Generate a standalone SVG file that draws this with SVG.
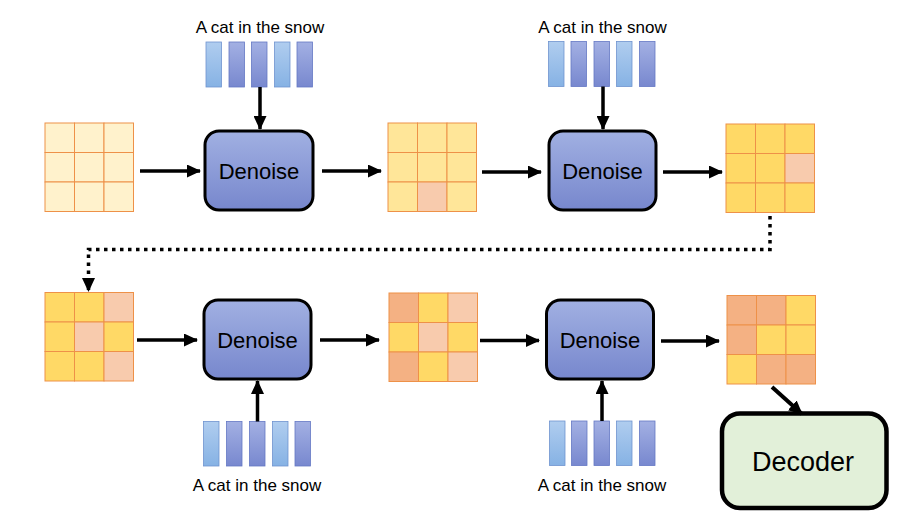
<svg xmlns="http://www.w3.org/2000/svg" width="900" height="526" viewBox="0 0 900 526">
<defs>
<linearGradient id="gDen" x1="0" y1="0" x2="0" y2="1">
<stop offset="0" stop-color="#a1b0e2"/>
<stop offset="1" stop-color="#7787cd"/>
</linearGradient>
<linearGradient id="gLight" x1="0" y1="0" x2="0" y2="1">
<stop offset="0" stop-color="#b0cdef"/>
<stop offset="1" stop-color="#86b2e4"/>
</linearGradient>
<linearGradient id="gDark" x1="0" y1="0" x2="0" y2="1">
<stop offset="0" stop-color="#a3b0e3"/>
<stop offset="1" stop-color="#7888cf"/>
</linearGradient>
<marker id="ah" viewBox="0 0 14 13" refX="13" refY="6.5" markerWidth="14" markerHeight="13" markerUnits="userSpaceOnUse" orient="auto">
<path d="M0,0 L14,6.5 L0,13 Z" fill="#000"/>
</marker>
</defs>
<style>
.cell{stroke:#ee9148;stroke-width:1}
.C{fill:#fff2cc}
.Y{fill:#ffe699}
.G{fill:#ffd966}
.P{fill:#f8cbad}
.S{fill:#f4b183}
.den{fill:url(#gDen);stroke:#000;stroke-width:3}
.lb{fill:url(#gLight);stroke:#6f93cf;stroke-width:0.8}
.db{fill:url(#gDark);stroke:#6478c4;stroke-width:0.8}
.lbl{font-family:"Liberation Sans",Arial,sans-serif;font-size:17px;fill:#000;text-anchor:middle}
.dtx{font-family:"Liberation Sans",Arial,sans-serif;font-size:22px;fill:#000;text-anchor:middle}
.arr{stroke:#000;stroke-width:3.5;fill:none;marker-end:url(#ah)}
.dot{stroke:#000;stroke-width:3.5;fill:none;stroke-dasharray:3.5 4.5;marker-end:url(#ah)}
</style>
<rect width="900" height="526" fill="#fff"/>

<g id="grid1">
<rect class="cell C" x="45" y="123" width="29.5" height="29.5"/><rect class="cell C" x="74.5" y="123" width="29.5" height="29.5"/><rect class="cell C" x="104" y="123" width="29.5" height="29.5"/>
<rect class="cell C" x="45" y="152.5" width="29.5" height="29.5"/><rect class="cell C" x="74.5" y="152.5" width="29.5" height="29.5"/><rect class="cell C" x="104" y="152.5" width="29.5" height="29.5"/>
<rect class="cell C" x="45" y="182" width="29.5" height="29.5"/><rect class="cell C" x="74.5" y="182" width="29.5" height="29.5"/><rect class="cell C" x="104" y="182" width="29.5" height="29.5"/>
</g>

<g id="grid2">
<rect class="cell Y" x="388" y="123" width="29.5" height="29.5"/><rect class="cell Y" x="417.5" y="123" width="29.5" height="29.5"/><rect class="cell Y" x="447" y="123" width="29.5" height="29.5"/>
<rect class="cell Y" x="388" y="152.5" width="29.5" height="29.5"/><rect class="cell Y" x="417.5" y="152.5" width="29.5" height="29.5"/><rect class="cell Y" x="447" y="152.5" width="29.5" height="29.5"/>
<rect class="cell Y" x="388" y="182" width="29.5" height="29.5"/><rect class="cell P" x="417.5" y="182" width="29.5" height="29.5"/><rect class="cell Y" x="447" y="182" width="29.5" height="29.5"/>
</g>

<g id="grid3">
<rect class="cell G" x="726" y="124" width="29.5" height="29.5"/><rect class="cell G" x="755.5" y="124" width="29.5" height="29.5"/><rect class="cell G" x="785" y="124" width="29.5" height="29.5"/>
<rect class="cell G" x="726" y="153.5" width="29.5" height="29.5"/><rect class="cell G" x="755.5" y="153.5" width="29.5" height="29.5"/><rect class="cell P" x="785" y="153.5" width="29.5" height="29.5"/>
<rect class="cell G" x="726" y="183" width="29.5" height="29.5"/><rect class="cell G" x="755.5" y="183" width="29.5" height="29.5"/><rect class="cell G" x="785" y="183" width="29.5" height="29.5"/>
</g>

<g id="grid4">
<rect class="cell G" x="45" y="292.5" width="29.5" height="29.5"/><rect class="cell G" x="74.5" y="292.5" width="29.5" height="29.5"/><rect class="cell P" x="104" y="292.5" width="29.5" height="29.5"/>
<rect class="cell G" x="45" y="322" width="29.5" height="29.5"/><rect class="cell P" x="74.5" y="322" width="29.5" height="29.5"/><rect class="cell G" x="104" y="322" width="29.5" height="29.5"/>
<rect class="cell G" x="45" y="351.5" width="29.5" height="29.5"/><rect class="cell G" x="74.5" y="351.5" width="29.5" height="29.5"/><rect class="cell P" x="104" y="351.5" width="29.5" height="29.5"/>
</g>

<g id="grid5">
<rect class="cell S" x="389" y="293" width="29.5" height="29.5"/><rect class="cell G" x="418.5" y="293" width="29.5" height="29.5"/><rect class="cell P" x="448" y="293" width="29.5" height="29.5"/>
<rect class="cell G" x="389" y="322.5" width="29.5" height="29.5"/><rect class="cell P" x="418.5" y="322.5" width="29.5" height="29.5"/><rect class="cell G" x="448" y="322.5" width="29.5" height="29.5"/>
<rect class="cell S" x="389" y="352" width="29.5" height="29.5"/><rect class="cell G" x="418.5" y="352" width="29.5" height="29.5"/><rect class="cell P" x="448" y="352" width="29.5" height="29.5"/>
</g>

<g id="grid6">
<rect class="cell S" x="727" y="295.5" width="29.5" height="29.5"/><rect class="cell S" x="756.5" y="295.5" width="29.5" height="29.5"/><rect class="cell G" x="786" y="295.5" width="29.5" height="29.5"/>
<rect class="cell S" x="727" y="325" width="29.5" height="29.5"/><rect class="cell G" x="756.5" y="325" width="29.5" height="29.5"/><rect class="cell G" x="786" y="325" width="29.5" height="29.5"/>
<rect class="cell G" x="727" y="354.5" width="29.5" height="29.5"/><rect class="cell S" x="756.5" y="354.5" width="29.5" height="29.5"/><rect class="cell S" x="786" y="354.5" width="29.5" height="29.5"/>
</g>

<g id="denoise1">
<rect class="den" x="205" y="131" width="108" height="79" rx="14"/>
<text class="dtx" x="259" y="178.5">Denoise</text>
</g>
<g id="denoise2">
<rect class="den" x="549" y="131" width="107" height="79" rx="14"/>
<text class="dtx" x="602.5" y="178.5">Denoise</text>
</g>
<g id="denoise3">
<rect class="den" x="204" y="300" width="107" height="79" rx="14"/>
<text class="dtx" x="257.5" y="347.5">Denoise</text>
</g>
<g id="denoise4">
<rect class="den" x="546.5" y="300" width="107" height="79" rx="14"/>
<text class="dtx" x="600" y="347.5">Denoise</text>
</g>

<g id="prompt1">
<text class="lbl" x="260" y="33">A cat in the snow</text>
<rect class="lb" x="206" y="42" width="15.5" height="45"/>
<rect class="db" x="229" y="42" width="15.5" height="45"/>
<rect class="db" x="251.5" y="42" width="15.5" height="45"/>
<rect class="lb" x="274.5" y="42" width="15.5" height="45"/>
<rect class="db" x="297" y="42" width="15.5" height="45"/>
</g>
<g id="prompt2">
<text class="lbl" x="602.5" y="33">A cat in the snow</text>
<rect class="lb" x="548.5" y="41.5" width="15.5" height="45"/>
<rect class="db" x="571" y="41.5" width="15.5" height="45"/>
<rect class="db" x="594" y="41.5" width="15.5" height="45"/>
<rect class="lb" x="616.5" y="41.5" width="15.5" height="45"/>
<rect class="db" x="639.5" y="41.5" width="15.5" height="45"/>
</g>
<g id="prompt3">
<rect class="lb" x="203.5" y="421.5" width="15.5" height="44.5"/>
<rect class="db" x="226.5" y="421.5" width="15.5" height="44.5"/>
<rect class="db" x="249.5" y="421.5" width="15.5" height="44.5"/>
<rect class="lb" x="272.5" y="421.5" width="15.5" height="44.5"/>
<rect class="db" x="295" y="421.5" width="15.5" height="44.5"/>
<text class="lbl" x="257" y="491">A cat in the snow</text>
</g>
<g id="prompt4">
<rect class="lb" x="549.5" y="421" width="15.5" height="44.5"/>
<rect class="db" x="571.5" y="421" width="15.5" height="44.5"/>
<rect class="db" x="594" y="421" width="15.5" height="44.5"/>
<rect class="lb" x="616.5" y="421" width="15.5" height="44.5"/>
<rect class="db" x="639.5" y="421" width="15.5" height="44.5"/>
<text class="lbl" x="602" y="491">A cat in the snow</text>
</g>

<g id="decoder">
<rect x="722" y="413.5" width="164.5" height="94.5" rx="18" fill="#e2f0d9" stroke="#000" stroke-width="4.5"/>
<text x="803" y="471" font-family="Liberation Sans, Arial, sans-serif" font-size="27" text-anchor="middle" fill="#000">Decoder</text>
</g>

<g id="connectors">
<line class="arr" x1="140" y1="171" x2="200" y2="171"/>
<line class="arr" x1="322" y1="171" x2="381" y2="171"/>
<line class="arr" x1="482" y1="172" x2="541" y2="172"/>
<line class="arr" x1="663" y1="172" x2="722" y2="172"/>
<line class="arr" x1="260" y1="87" x2="260" y2="129"/>
<line class="arr" x1="603" y1="86.5" x2="603" y2="129"/>
<path class="dot" d="M770,216 V249.5 H88.5 V291"/>
<line class="arr" x1="137" y1="340" x2="197" y2="340"/>
<line class="arr" x1="320" y1="340" x2="379" y2="340"/>
<line class="arr" x1="480" y1="340.5" x2="539" y2="340.5"/>
<line class="arr" x1="661" y1="341" x2="719" y2="341"/>
<line class="arr" x1="257.5" y1="421.5" x2="257.5" y2="381"/>
<line class="arr" x1="602" y1="421" x2="602" y2="381"/>
<line class="arr" x1="772" y1="387" x2="802" y2="414" style="stroke-width:4"/>
</g>
</svg>
